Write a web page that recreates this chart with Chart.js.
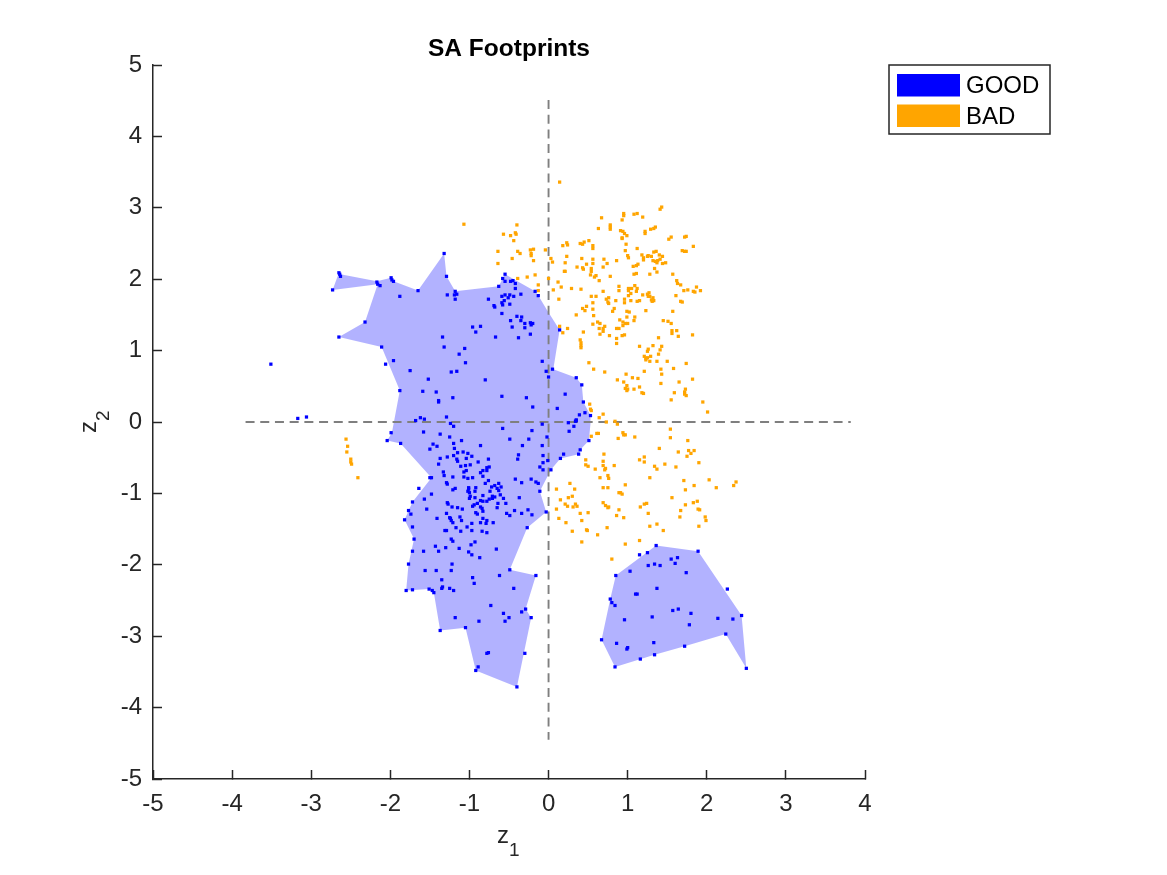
<!DOCTYPE html>
<html>
<head>
<meta charset="utf-8">
<title>SA Footprints</title>
<script src="https://cdn.jsdelivr.net/npm/chart.js@4"></script>
<style>
  body { margin: 0; background: #fff; }
  canvas { display: block; }
</style>
</head>
<body>
<canvas id="footprints" width="1167" height="875"></canvas>
<script>
// Values, [z1, z2]
var xTicks = [-5, -4, -3, -2, -1, 0, 1, 2, 3, 4];
var yTicks = [-5, -4, -3, -2, -1, 0, 1, 2, 3, 4, 5];
var legendLabels = ['GOOD', 'BAD'];
var legendColors = ['#0000ff', '#ffa500'];

// dashed cross through the origin
var crossH = [[-3.83, 0], [3.82, 0]];
var crossV = [[0, 4.51], [0, -4.45]];

// footprint outlines
var footprintMain = [
  [-2.73, 1.85], [-2.65, 2.09], [-2.63, 2.07], [-2.17, 1.97], [-1.99, 2.02], [-1.96, 1.97], [-1.65, 1.84],
  [-1.32, 2.36], [-1.29, 2.04], [-1.18, 1.83], [-0.63, 1.90], [-0.55, 2.07], [-0.17, 1.83], [-0.13, 1.77],
  [-0.02, 1.57], [0.14, 1.29], [0.06, 0.74], [0.35, 0.62], [0.42, 0.52], [0.44, 0.28], [0.53, 0.09],
  [0.53, -0.02], [0.51, -0.26], [0.40, -0.39], [0.38, -0.45], [0.15, -0.51], [0.03, -0.67], [-0.11, -0.97],
  [-0.03, -1.26], [-0.27, -1.48], [-0.49, -2.07], [-0.16, -2.15], [-0.29, -2.62], [-0.22, -2.74], [-0.40, -3.71],
  [-0.92, -3.48], [-1.05, -2.88], [-1.37, -2.92], [-1.45, -2.39], [-1.51, -2.34], [-1.80, -2.36], [-1.77, -1.99],
  [-1.70, -1.64], [-1.82, -1.37], [-1.72, -1.12], [-1.48, -0.78], [-1.87, -0.30], [-2.04, -0.26], [-1.98, -0.15],
  [-1.88, 0.44], [-2.11, 1.05], [-2.65, 1.19], [-2.32, 1.40], [-2.16, 1.93], [-2.73, 1.85]
];
var footprintLower = [
  [0.85, -2.15], [1.36, -1.73], [1.89, -1.81], [2.44, -2.71], [2.50, -3.45], [2.24, -2.97], [1.72, -3.14],
  [1.34, -3.26], [0.84, -3.43], [0.67, -3.05], [0.78, -2.48], [0.85, -2.15]
];

var goodUpper = [
  [-3.51, 0.81], [-3.17, 0.05], [-3.06, 0.07], [-2.73, 1.85], [-2.65, 2.09], [-2.64, 2.07], [-2.63, 2.04], [-2.65, 1.19],
  [-2.32, 1.40], [-2.17, 1.96], [-2.16, 1.93], [-2.13, 1.91], [-1.99, 2.02], [-1.98, 1.99], [-1.96, 1.97], [-1.88, 1.76],
  [-1.65, 1.84], [-1.32, 2.36], [-1.29, 2.04], [-1.28, 1.78], [-1.18, 1.83], [-1.16, 1.79], [-1.19, 1.78], [-1.18, 1.72],
  [-2.11, 1.05], [-2.06, 0.81], [-1.96, 0.86], [-1.88, 0.44], [-1.75, 0.72], [-1.52, 0.60], [-1.59, 0.43], [-1.42, 0.42],
  [-1.39, 0.30], [-1.39, 0.28], [-1.21, 0.34], [-1.34, 1.19], [-1.32, 1.05], [-1.23, 0.70], [-1.16, 0.71], [-1.13, 0.95],
  [-1.06, 1.03], [-1.05, 0.83], [-0.96, 1.33], [-0.86, 1.34], [-0.92, 1.26], [-0.76, 1.72], [-0.67, 1.19], [-0.80, 0.59],
  [-0.59, 0.36], [-0.28, 0.34], [-0.20, 0.21], [0.11, 0.19], [-0.08, 0.85], [-0.03, 0.71], [0.00, 0.63], [0.05, 0.74],
  [0.14, 1.29], [-0.63, 1.90], [-0.58, 2.01], [-0.55, 2.07], [-0.55, 1.97], [-0.48, 1.97], [-0.45, 1.98], [-0.42, 1.94],
  [-0.42, 1.87], [-0.35, 1.79], [-0.17, 1.83], [-0.13, 1.77], [-0.59, 1.76], [-0.55, 1.78], [-0.49, 1.78], [-0.51, 1.74],
  [-0.44, 1.76], [-0.56, 1.70], [-0.59, 1.67], [-0.58, 1.64], [-0.69, 1.63], [-0.68, 1.61], [-0.49, 1.65], [-0.59, 1.52],
  [-0.40, 1.48], [-0.34, 1.47], [-0.48, 1.42], [-0.35, 1.42], [-0.30, 1.38], [-0.23, 1.39], [-0.20, 1.38], [-0.22, 1.36],
  [-0.46, 1.33], [-0.30, 1.32], [-0.23, 1.23], [-0.38, 1.18], [-1.29, 0.07], [-1.62, 0.06], [-1.57, 0.04],
  [0.35, 0.62], [0.42, 0.52], [0.21, 0.39], [0.44, 0.28], [0.39, 0.10], [0.46, 0.13], [0.53, 0.09], [0.35, 0.03], [0.34, 0.01]
];
var goodLower = [
  [-1.68, 0.02], [-1.24, -0.02], [-1.20, -0.06], [-0.58, -0.09], [-0.08, -0.03], [0.25, -0.01], [0.35, 0.02], [0.32, -0.06],
  [0.26, -0.13], [-0.21, -0.12], [-0.02, -0.21], [-0.25, -0.24], [-0.49, -0.24], [-1.99, -0.15], [-1.58, -0.14], [-1.37, -0.17],
  [-1.25, -0.21], [-2.04, -0.26], [-1.87, -0.30], [-1.10, -0.26], [-1.20, -0.30], [-1.46, -0.31], [-1.41, -0.34], [-1.50, -0.38],
  [-1.19, -0.37], [-0.86, -0.33], [-0.33, -0.33], [-0.08, -0.33], [0.51, -0.26], [0.40, -0.39], [0.38, -0.45], [0.19, -0.45],
  [0.15, -0.51], [-1.15, -0.43], [-1.08, -0.42], [-1.02, -0.44], [-1.20, -0.47], [-0.97, -0.48], [-1.37, -0.51], [-1.28, -0.49],
  [-1.16, -0.52], [-1.15, -0.55], [-1.04, -0.51], [-0.76, -0.52], [-0.38, -0.46], [-0.39, -0.52], [-0.07, -0.47], [-0.01, -0.54],
  [-0.07, -0.57], [-0.89, -0.56], [-1.39, -0.59], [-1.11, -0.62], [-1.05, -0.61], [-0.99, -0.60], [-0.11, -0.63], [-0.07, -0.67],
  [0.03, -0.67], [-1.04, -0.68], [-1.07, -0.70], [-0.83, -0.68], [-0.86, -0.71], [-0.78, -0.64], [-0.75, -0.63], [-0.78, -0.68],
  [-1.33, -0.70], [-1.32, -0.75], [-1.21, -0.77], [-1.07, -0.77], [-1.02, -0.79], [-0.96, -0.78], [-0.83, -0.76], [-1.48, -0.78],
  [-1.50, -0.78], [-0.76, -0.82], [-0.42, -0.80], [-0.34, -0.85], [-0.22, -0.80], [-0.16, -0.84], [-0.13, -0.86], [-1.29, -0.85],
  [-1.28, -0.87], [-0.80, -0.86], [-0.63, -0.86], [-0.68, -0.89], [-0.72, -0.91], [-0.60, -0.91], [-0.92, -0.92], [-1.01, -0.92],
  [-1.01, -0.94], [-0.65, -0.93], [-0.63, -0.96], [-0.74, -0.97], [-1.64, -0.93], [-1.21, -0.95], [-1.18, -0.93], [-0.11, -0.97],
  [-1.02, -0.97], [-1.00, -0.99], [-0.93, -0.97], [-0.61, -1.02], [-1.48, -1.01], [-0.99, -1.04], [-0.93, -1.06], [-1.00, -1.07],
  [-0.83, -1.03], [-0.71, -1.04], [-0.68, -1.05], [-0.71, -1.07], [-0.57, -1.07], [-0.37, -1.06], [-1.57, -1.08], [-1.72, -1.12],
  [-1.28, -1.13], [-1.27, -1.15], [-0.86, -1.10], [-0.83, -1.11], [-0.78, -1.11], [-0.75, -1.08], [-0.64, -1.14], [-0.54, -1.14],
  [-0.90, -1.14], [-0.94, -1.16], [-0.96, -1.18], [-0.86, -1.19], [-1.22, -1.19], [-1.15, -1.20], [-1.09, -1.22], [-0.84, -1.21],
  [-0.65, -1.20], [-1.77, -1.24], [-1.54, -1.22], [-0.83, -1.25], [-0.43, -1.24], [-0.26, -1.23], [-0.03, -1.26], [-1.74, -1.29],
  [-1.29, -1.28], [-0.92, -1.27], [-0.90, -1.29], [-0.53, -1.28], [-0.49, -1.31], [-0.34, -1.28], [-0.21, -1.30], [-1.12, -1.33],
  [-1.25, -1.34], [-1.24, -1.35], [-1.41, -1.35], [-0.83, -1.35], [-1.82, -1.37], [-1.23, -1.38], [-1.21, -1.41], [-1.10, -1.38],
  [-0.78, -1.38], [-0.86, -1.41], [-0.79, -1.42], [-0.97, -1.42], [-0.70, -1.41], [-1.72, -1.47], [-1.17, -1.48], [-1.03, -1.47],
  [-0.27, -1.48], [-1.31, -1.52], [-1.29, -1.52], [-1.11, -1.53], [-0.97, -1.52], [-0.84, -1.53], [-0.78, -1.55], [-1.70, -1.64],
  [-1.23, -1.64], [-1.21, -1.67], [-0.93, -1.68], [-0.98, -1.72], [-1.43, -1.74], [-1.30, -1.76], [-1.13, -1.77], [-0.66, -1.78],
  [-1.72, -1.81], [-1.58, -1.81], [-1.39, -1.81], [-1.01, -1.82], [-0.97, -1.86], [-0.87, -1.90], [-1.77, -1.99], [-1.22, -1.99],
  [-1.56, -2.08], [-1.42, -2.08], [-1.23, -2.08], [-0.49, -2.07], [-0.96, -2.18], [-0.62, -2.15], [-0.16, -2.15], [-1.35, -2.21],
  [-0.94, -2.26], [-1.34, -2.31], [-1.35, -2.33], [-1.25, -2.33], [-1.20, -2.36], [-1.80, -2.36], [-1.72, -2.35], [-1.51, -2.34],
  [-1.47, -2.36], [-1.45, -2.39], [-0.44, -2.33], [-0.73, -2.57], [-0.34, -2.66], [-0.29, -2.62], [-0.57, -2.68], [-0.50, -2.74],
  [-0.22, -2.74], [-1.18, -2.74], [-0.88, -2.79], [-0.55, -2.79], [-1.05, -2.88], [-1.37, -2.92], [-0.78, -3.24], [-0.76, -3.23],
  [-0.30, -3.24], [-0.89, -3.43], [-0.92, -3.48], [-0.40, -3.71]
];
var goodRight = [
  [1.36, -1.73], [1.15, -1.86], [1.25, -1.83], [1.89, -1.81], [1.55, -1.92], [1.63, -1.90], [1.60, -1.98], [1.26, -2.01],
  [1.34, -1.99], [1.41, -2.01], [1.03, -2.09], [1.74, -2.11], [0.85, -2.15], [1.37, -2.33], [2.26, -2.34], [1.10, -2.41],
  [1.12, -2.41], [0.78, -2.48], [0.80, -2.53], [0.84, -2.57], [1.57, -2.64], [1.64, -2.62], [1.80, -2.68], [1.31, -2.73],
  [2.14, -2.75], [2.33, -2.76], [2.44, -2.71], [0.96, -2.77], [1.78, -2.84], [2.24, -2.97], [0.67, -3.05], [0.86, -3.10],
  [1.33, -3.09], [1.72, -3.14], [1.00, -3.16], [0.99, -3.18], [1.34, -3.26], [1.16, -3.32], [0.84, -3.43], [2.50, -3.45]
];

var badLeft = [
  [-2.56, -0.24], [-2.54, -0.34], [-2.55, -0.42], [-2.50, -0.52], [-2.50, -0.56], [-2.49, -0.59], [-2.41, -0.78], [-1.07, 2.77],
  [-0.40, 2.76], [-0.42, 2.65], [-0.57, 2.63], [-0.48, 2.61], [-0.41, 2.63], [-0.44, 2.54], [-0.64, 2.39], [-0.39, 2.39],
  [-0.36, 2.36], [-0.23, 2.41], [-0.19, 2.42], [-0.22, 2.36], [-0.22, 2.33], [-0.04, 2.41], [-0.46, 2.29], [-0.19, 2.26],
  [-0.64, 2.22], [-0.39, 2.01], [-0.27, 2.03], [-0.17, 2.06], [-0.13, 1.92], [-0.13, 1.84]
];
var badUpper = [
  [0.14, 3.36], [1.43, 3.01], [1.41, 2.98], [0.67, 2.86], [0.95, 2.92], [0.95, 2.89], [1.08, 2.91], [1.12, 2.92], [1.19, 2.87],
  [0.93, 2.83], [0.78, 2.76], [0.78, 2.73], [0.78, 2.70], [0.63, 2.71], [1.35, 2.73], [1.33, 2.71], [1.29, 2.70], [1.22, 2.67],
  [1.22, 2.64], [0.91, 2.68], [0.94, 2.67], [0.96, 2.64], [0.99, 2.61], [0.93, 2.58], [0.93, 2.57], [1.74, 2.60], [1.72, 2.59],
  [1.55, 2.59], [1.52, 2.56], [0.51, 2.54], [0.45, 2.52], [0.40, 2.50], [0.43, 2.49], [0.23, 2.51], [0.24, 2.48], [0.18, 2.47],
  [0.56, 2.47], [0.56, 2.43], [0.98, 2.49], [0.97, 2.40], [1.12, 2.43], [1.83, 2.46], [1.33, 2.38], [1.36, 2.39], [1.69, 2.40],
  [1.72, 2.39], [1.74, 2.39], [1.18, 2.34], [1.00, 2.33], [1.01, 2.30], [1.20, 2.30], [1.25, 2.32], [1.26, 2.33], [1.30, 2.32],
  [1.40, 2.34], [1.44, 2.32], [1.20, 2.27], [0.03, 2.29], [0.23, 2.32], [0.42, 2.29], [0.56, 2.28], [0.70, 2.28], [0.86, 2.26],
  [1.32, 2.26], [1.35, 2.25], [1.38, 2.26], [1.41, 2.28], [0.05, 2.24], [0.21, 2.23], [0.56, 2.22], [0.74, 2.22], [1.37, 2.23],
  [1.44, 2.22], [1.48, 2.23], [0.48, 2.21], [1.13, 2.21], [1.11, 2.19], [1.07, 2.18], [0.69, 2.17], [0.36, 2.17], [0.43, 2.16],
  [0.44, 2.14], [0.54, 2.15], [0.54, 2.11], [1.34, 2.15], [0.20, 2.11], [0.21, 2.11], [1.37, 2.10], [1.11, 2.08], [1.08, 2.07],
  [1.28, 2.07], [1.57, 2.07], [0.53, 2.06], [0.60, 2.05], [0.58, 2.03], [0.78, 2.04], [0.64, 1.98], [1.62, 1.98], [0.00, 2.01],
  [0.12, 1.96], [1.63, 1.94], [1.67, 1.92], [0.89, 1.90], [1.09, 1.91], [0.06, 1.85], [0.16, 1.89], [0.29, 1.87], [0.41, 1.86],
  [0.89, 1.84], [1.01, 1.87], [1.05, 1.87], [1.12, 1.87], [1.01, 1.84], [1.11, 1.83], [1.04, 1.80], [1.71, 1.84], [1.76, 1.85],
  [1.83, 1.83], [1.85, 1.82], [1.87, 1.89], [1.92, 1.84], [0.69, 1.83], [1.61, 1.77], [1.01, 1.77], [1.19, 1.78], [1.25, 1.79],
  [1.27, 1.81], [1.26, 1.76], [1.28, 1.76], [0.54, 1.76], [0.60, 1.76], [0.76, 1.74], [0.73, 1.72], [0.85, 1.70], [0.96, 1.72],
  [1.04, 1.70], [1.12, 1.69], [1.15, 1.70], [1.32, 1.74], [1.30, 1.71], [1.33, 1.70], [1.31, 1.69], [1.67, 1.69], [1.69, 1.68],
  [0.13, 1.72], [0.56, 1.67], [0.75, 1.68], [0.76, 1.66], [0.96, 1.67], [0.48, 1.62], [0.43, 1.59], [0.46, 1.56], [0.56, 1.58],
  [0.83, 1.59], [0.81, 1.55], [1.23, 1.56], [1.57, 1.55], [0.99, 1.55], [1.02, 1.54], [0.35, 1.50], [0.57, 1.49], [1.09, 1.47],
  [0.99, 1.47], [0.90, 1.43], [1.08, 1.42], [1.45, 1.42], [1.51, 1.41], [0.94, 1.40], [0.62, 1.40], [0.56, 1.37], [0.65, 1.38],
  [1.55, 1.38], [0.97, 1.38], [1.00, 1.38], [0.71, 1.34], [0.94, 1.35], [0.64, 1.31], [0.69, 1.31], [0.86, 1.31], [0.89, 1.31],
  [0.14, 1.34], [0.24, 1.31], [0.18, 1.25], [0.44, 1.26], [0.69, 1.27], [1.56, 1.28], [1.62, 1.28], [1.56, 1.24], [0.65, 1.23],
  [0.77, 1.21], [0.93, 1.21], [0.96, 1.22], [1.64, 1.20], [1.82, 1.22], [1.39, 1.18], [0.86, 1.17], [0.40, 1.15], [0.41, 1.11],
  [0.41, 1.07], [0.41, 1.04], [0.86, 1.10], [1.15, 1.06], [1.32, 1.07], [1.43, 1.06], [1.26, 1.02], [1.41, 1.01], [1.25, 0.99],
  [1.39, 0.95], [1.21, 0.92], [1.23, 0.89], [1.25, 0.90], [1.29, 0.92], [1.23, 0.87], [1.28, 0.85], [1.37, 0.85], [1.50, 0.85],
  [1.74, 0.82], [0.51, 0.83], [0.57, 0.74], [0.71, 0.70], [1.42, 0.74], [1.58, 0.75], [1.21, 0.71], [1.43, 0.67], [0.98, 0.67],
  [1.06, 0.62], [1.13, 0.61], [0.87, 0.59], [0.95, 0.56], [1.42, 0.54], [1.65, 0.56], [1.82, 0.60], [0.99, 0.51], [0.97, 0.47],
  [1.00, 0.46], [0.99, 0.44], [1.08, 0.46], [1.15, 0.49], [1.18, 0.41], [1.20, 0.40], [1.73, 0.46], [1.72, 0.42], [1.59, 0.41],
  [1.72, 0.39], [1.74, 0.37], [1.55, 0.31], [1.95, 0.28], [0.52, 0.25], [0.53, 0.18]
];
var badLower = [
  [0.54, 0.16], [0.69, 0.11], [0.64, 0.06], [2.01, 0.14], [0.73, 0.00], [0.84, 0.01], [0.87, -0.03], [1.54, -0.10], [0.54, -0.20],
  [0.61, -0.16], [0.63, -0.16], [0.94, -0.15], [0.95, -0.18], [0.97, -0.18], [0.88, -0.23], [1.09, -0.21], [1.54, -0.22], [1.76, -0.26],
  [1.40, -0.37], [0.70, -0.45], [1.64, -0.42], [1.77, -0.40], [1.84, -0.40], [1.80, -0.44], [1.75, -0.48], [1.21, -0.49], [1.15, -0.53],
  [0.47, -0.53], [0.69, -0.55], [1.21, -0.56], [1.90, -0.57], [1.47, -0.59], [0.47, -0.60], [0.50, -0.62], [0.69, -0.61], [0.83, -0.61],
  [1.34, -0.62], [1.37, -0.66], [1.61, -0.63], [0.72, -0.65], [0.71, -0.67], [0.59, -0.66], [0.75, -0.75], [0.65, -0.78], [0.76, -0.79],
  [1.28, -0.78], [1.71, -0.82], [2.03, -0.81], [0.27, -0.86], [2.37, -0.84], [2.34, -0.89], [0.97, -0.88], [1.84, -0.89], [2.12, -0.92],
  [0.10, -0.94], [0.33, -0.94], [0.69, -0.92], [0.75, -0.92], [1.73, -0.95], [0.89, -0.99], [0.91, -0.99], [0.93, -1.01], [0.30, -1.04],
  [0.25, -1.06], [1.56, -1.06], [0.15, -1.09], [1.88, -1.11], [1.83, -1.13], [0.69, -1.13], [0.21, -1.15], [0.24, -1.18], [0.34, -1.15],
  [0.36, -1.18], [0.31, -1.19], [0.72, -1.17], [0.76, -1.19], [0.75, -1.20], [1.24, -1.14], [1.21, -1.15], [1.16, -1.19], [1.73, -1.16],
  [0.10, -1.22], [0.89, -1.23], [1.67, -1.24], [1.89, -1.22], [1.91, -1.23], [0.50, -1.27], [0.40, -1.28], [1.26, -1.28], [0.86, -1.31],
  [0.13, -1.35], [0.42, -1.38], [0.95, -1.34], [1.66, -1.33], [1.98, -1.33], [1.99, -1.38], [0.22, -1.41], [1.37, -1.43], [1.28, -1.46],
  [1.90, -1.46], [0.74, -1.48], [0.48, -1.51], [0.49, -1.52], [0.30, -1.53], [1.45, -1.52], [0.62, -1.58], [0.42, -1.68], [1.15, -1.66],
  [0.97, -1.71], [0.80, -1.92]
];

var fontName = '"Liberation Sans", Arial, sans-serif';
var inkColor = '#262626';

// axis labels with a proper sized subscript, then the legend box
var annotations = {
  id: 'annotations',
  afterDraw: function (chart) {
    var ctx = chart.ctx;
    ctx.save();
    drawSubLabel(ctx, 'z', '1', 497, 843, 0);
    drawSubLabel(ctx, 'z', '2', 96, 433, -Math.PI / 2);

    ctx.fillStyle = '#fff';
    ctx.fillRect(889, 65, 161, 69);
    ctx.strokeStyle = inkColor;
    ctx.lineWidth = 1.5;
    ctx.strokeRect(889, 65, 161, 69);
    ctx.font = '24px ' + fontName;
    ctx.textBaseline = 'middle';
    legendLabels.forEach(function (label, i) {
      ctx.fillStyle = legendColors[i];
      ctx.fillRect(897, 74 + i * 30.5, 63, 22.5);
      ctx.fillStyle = '#000';
      ctx.fillText(label, 966, 86 + i * 31);
    });
    ctx.restore();
  }
};

function drawSubLabel(ctx, main, sub, x, y, angle) {
  ctx.save();
  ctx.translate(x, y);
  ctx.rotate(angle);
  ctx.fillStyle = inkColor;
  ctx.textBaseline = 'alphabetic';
  ctx.font = '24px ' + fontName;
  ctx.fillText(main, 0, 0);
  ctx.font = '19px ' + fontName;
  ctx.fillText(sub, 12, 13);
  ctx.restore();
}

function axisOptions(ticks, fit) {
  return {
    min: ticks[0],
    max: ticks[ticks.length - 1],
    afterBuildTicks: function (scale) {
      scale.ticks = ticks.map(function (v) { return { value: v }; });
    },
    afterFit: fit,
    border: { color: inkColor, width: 1.5 },
    grid: { drawOnChartArea: false, tickLength: -9, tickWidth: 1.5, tickColor: inkColor },
    ticks: { color: inkColor, font: { family: fontName, size: 24 }, padding: 20, maxRotation: 0, autoSkip: false }
  };
}

function dots(label, data, color) {
  return { label: label, data: data, showLine: false, pointStyle: 'rect', pointRadius: 2.3, pointBorderWidth: 0, pointBackgroundColor: color };
}

function dashed(label, data) {
  return { label: label, data: data, showLine: true, pointRadius: 0, borderColor: '#7f7f7f', borderWidth: 1.9, borderDash: [9, 5.7] };
}

function shape(label, data) {
  return { label: label, data: data, showLine: true, pointRadius: 0, borderWidth: 0, borderColor: 'transparent', backgroundColor: 'rgba(0,0,255,0.3)', fill: 'shape' };
}

var ctx = document.getElementById('footprints').getContext('2d');

var footprintChart = new Chart(ctx, {
  type: 'scatter',
  data: {
    datasets: [
      dots('GOOD', goodUpper.concat(goodLower, goodRight), '#0000ff'),
      dots('BAD', badLeft.concat(badUpper, badLower), '#ffa500'),
      dashed('z1 = 0', crossV),
      dashed('z2 = 0', crossH),
      shape('footprint', footprintMain),
      shape('footprint lower', footprintLower)
    ]
  },
  plugins: [annotations],
  options: {
    responsive: false,
    animation: false,
    layout: { padding: { top: 35, right: 302, bottom: 0, left: 0 } },
    plugins: {
      legend: { display: false },
      tooltip: { enabled: false },
      title: {
        display: true,
        text: 'SA Footprints',
        fullSize: false,
        color: '#000',
        font: { family: fontName, size: 24.5, weight: 'bold' },
        padding: { top: 0, bottom: 0.6 }
      }
    },
    scales: {
      x: axisOptions(xTicks, function (scale) { scale.height = 96; }),
      y: axisOptions(yTicks, function (scale) { scale.width = 153; })
    }
  }
});
</script>
</body>
</html>
